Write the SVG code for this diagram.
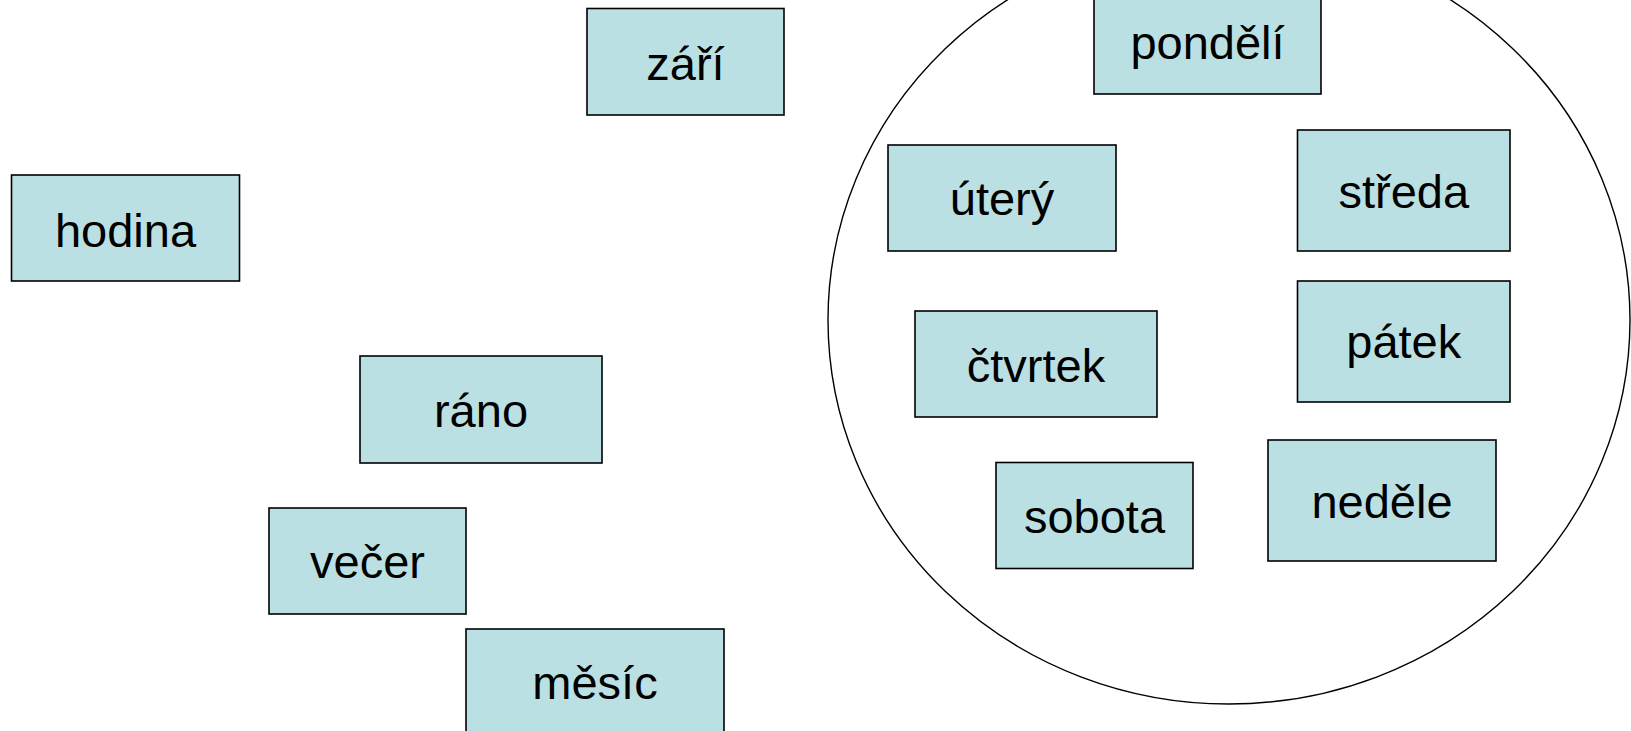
<svg xmlns="http://www.w3.org/2000/svg" width="1631" height="731" viewBox="0 0 1631 731">
<style>
.box{fill:#BBE0E3;stroke:#000;stroke-width:1.6}
.lbl{font-family:"Liberation Sans",Arial,sans-serif;font-size:47px;fill:#000;text-anchor:middle}
</style>
<rect width="1631" height="731" fill="#fff"/>
<g id="days-set">
<ellipse cx="1229" cy="320" rx="401" ry="384" fill="none" stroke="#000" stroke-width="1.4"/>
</g>
<g id="connectors"></g>
<g id="zari"><rect class="box" x="587" y="8.5" width="197" height="106.5"/><text class="lbl" x="685.5" y="80">září</text></g>
<g id="hodina"><rect class="box" x="11.5" y="175" width="228" height="106"/><text class="lbl" x="125.5" y="246.5">hodina</text></g>
<g id="rano"><rect class="box" x="360" y="356" width="242" height="107"/><text class="lbl" x="481" y="427">ráno</text></g>
<g id="vecer"><rect class="box" x="269" y="508" width="197" height="106"/><text class="lbl" x="367.5" y="578">večer</text></g>
<g id="mesic"><rect class="box" x="466" y="629" width="258" height="110"/><text class="lbl" x="595" y="699">měsíc</text></g>
<g id="pondeli"><rect class="box" x="1094" y="-12" width="227" height="106"/><text class="lbl" x="1207.5" y="59">pondělí</text></g>
<g id="utery"><rect class="box" x="888" y="145" width="228" height="106"/><text class="lbl" x="1002" y="215">úterý</text></g>
<g id="streda"><rect class="box" x="1297.5" y="130" width="212.5" height="121"/><text class="lbl" x="1403.75" y="208">středa</text></g>
<g id="ctvrtek"><rect class="box" x="915" y="311" width="242" height="106"/><text class="lbl" x="1036" y="381.5">čtvrtek</text></g>
<g id="patek"><rect class="box" x="1297.5" y="281" width="212.5" height="121"/><text class="lbl" x="1403.75" y="358">pátek</text></g>
<g id="sobota"><rect class="box" x="996" y="462.5" width="197" height="106"/><text class="lbl" x="1094.5" y="532.5">sobota</text></g>
<g id="nedele"><rect class="box" x="1268" y="440" width="228" height="121"/><text class="lbl" x="1382" y="518">neděle</text></g>
</svg>
